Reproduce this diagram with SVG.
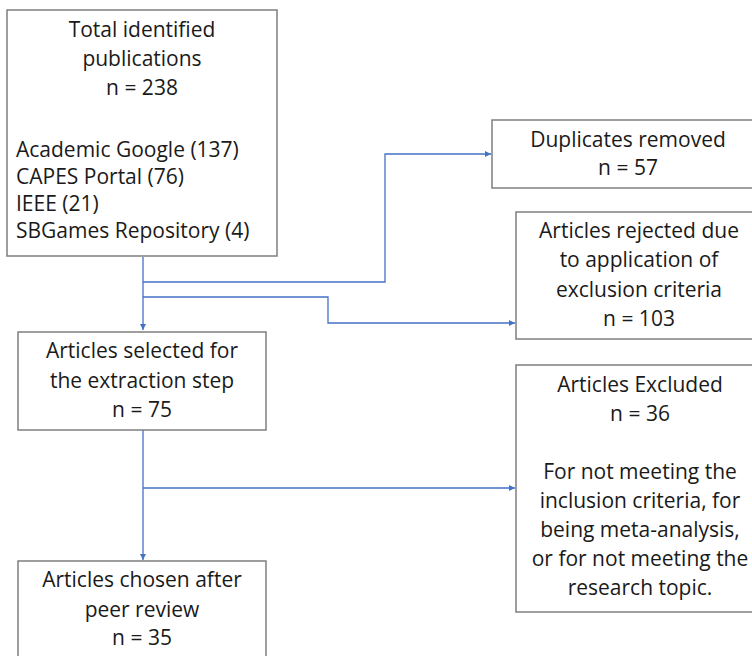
<svg xmlns="http://www.w3.org/2000/svg" width="752" height="656" viewBox="0 0 752 656">
<style>
.box{fill:#fff;stroke:#7f7f7f;stroke-width:1.5}
text{font-family:"Open Sans","Liberation Sans",sans-serif;font-size:21px;fill:#1a1a1a;text-anchor:middle}
.l{text-anchor:start}
.c{fill:none;stroke:#4472c4;stroke-width:1.3}
</style>
<defs>
<marker id="ah" viewBox="0 0 6 6" refX="6" refY="3" markerWidth="6" markerHeight="6" markerUnits="userSpaceOnUse" orient="auto">
<path d="M0,0 L6,3 L0,6 z" fill="#4472c4"/>
</marker>
</defs>
<rect width="752" height="656" fill="#fff"/>
<g id="connectors">
<path class="c" d="M143,257 V330" marker-end="url(#ah)"/>
<path class="c" d="M143,282 H385 V154 H491" marker-end="url(#ah)"/>
<path class="c" d="M143,297 H328 V323 H515" marker-end="url(#ah)"/>
<path class="c" d="M143,430 V560" marker-end="url(#ah)"/>
<path class="c" d="M143,488 H515" marker-end="url(#ah)"/>
</g>
<g id="n1">
<rect class="box" x="7" y="10" width="270" height="246"/>
<text x="142" y="37">Total identified</text>
<text x="142" y="66">publications</text>
<text x="142" y="95">n = 238</text>
<text class="l" x="16" y="157">Academic Google (137)</text>
<text class="l" x="16" y="184">CAPES Portal (76)</text>
<text class="l" x="16" y="211">IEEE (21)</text>
<text class="l" x="16" y="238">SBGames Repository (4)</text>
</g>
<g id="n2">
<rect class="box" x="492" y="120" width="272" height="68"/>
<text x="628" y="147">Duplicates removed</text>
<text x="628" y="175">n = 57</text>
</g>
<g id="n3">
<rect class="box" x="516" y="212" width="248" height="127"/>
<text x="639" y="238">Articles rejected due</text>
<text x="639" y="267">to application of</text>
<text x="639" y="297">exclusion criteria</text>
<text x="639" y="326">n = 103</text>
</g>
<g id="n4">
<rect class="box" x="18" y="332" width="248" height="98"/>
<text x="142" y="358">Articles selected for</text>
<text x="142" y="388">the extraction step</text>
<text x="142" y="417">n = 75</text>
</g>
<g id="n5">
<rect class="box" x="516" y="365" width="248" height="247"/>
<text x="640" y="392">Articles Excluded</text>
<text x="640" y="421">n = 36</text>
<text x="640" y="479">For not meeting the</text>
<text x="640" y="508">inclusion criteria, for</text>
<text x="640" y="537">being meta-analysis,</text>
<text x="640" y="566">or for not meeting the</text>
<text x="640" y="595">research topic.</text>
</g>
<g id="n6">
<rect class="box" x="18" y="561" width="248" height="110"/>
<text x="142" y="587">Articles chosen after</text>
<text x="142" y="617">peer review</text>
<text x="142" y="645">n = 35</text>
</g>
</svg>
